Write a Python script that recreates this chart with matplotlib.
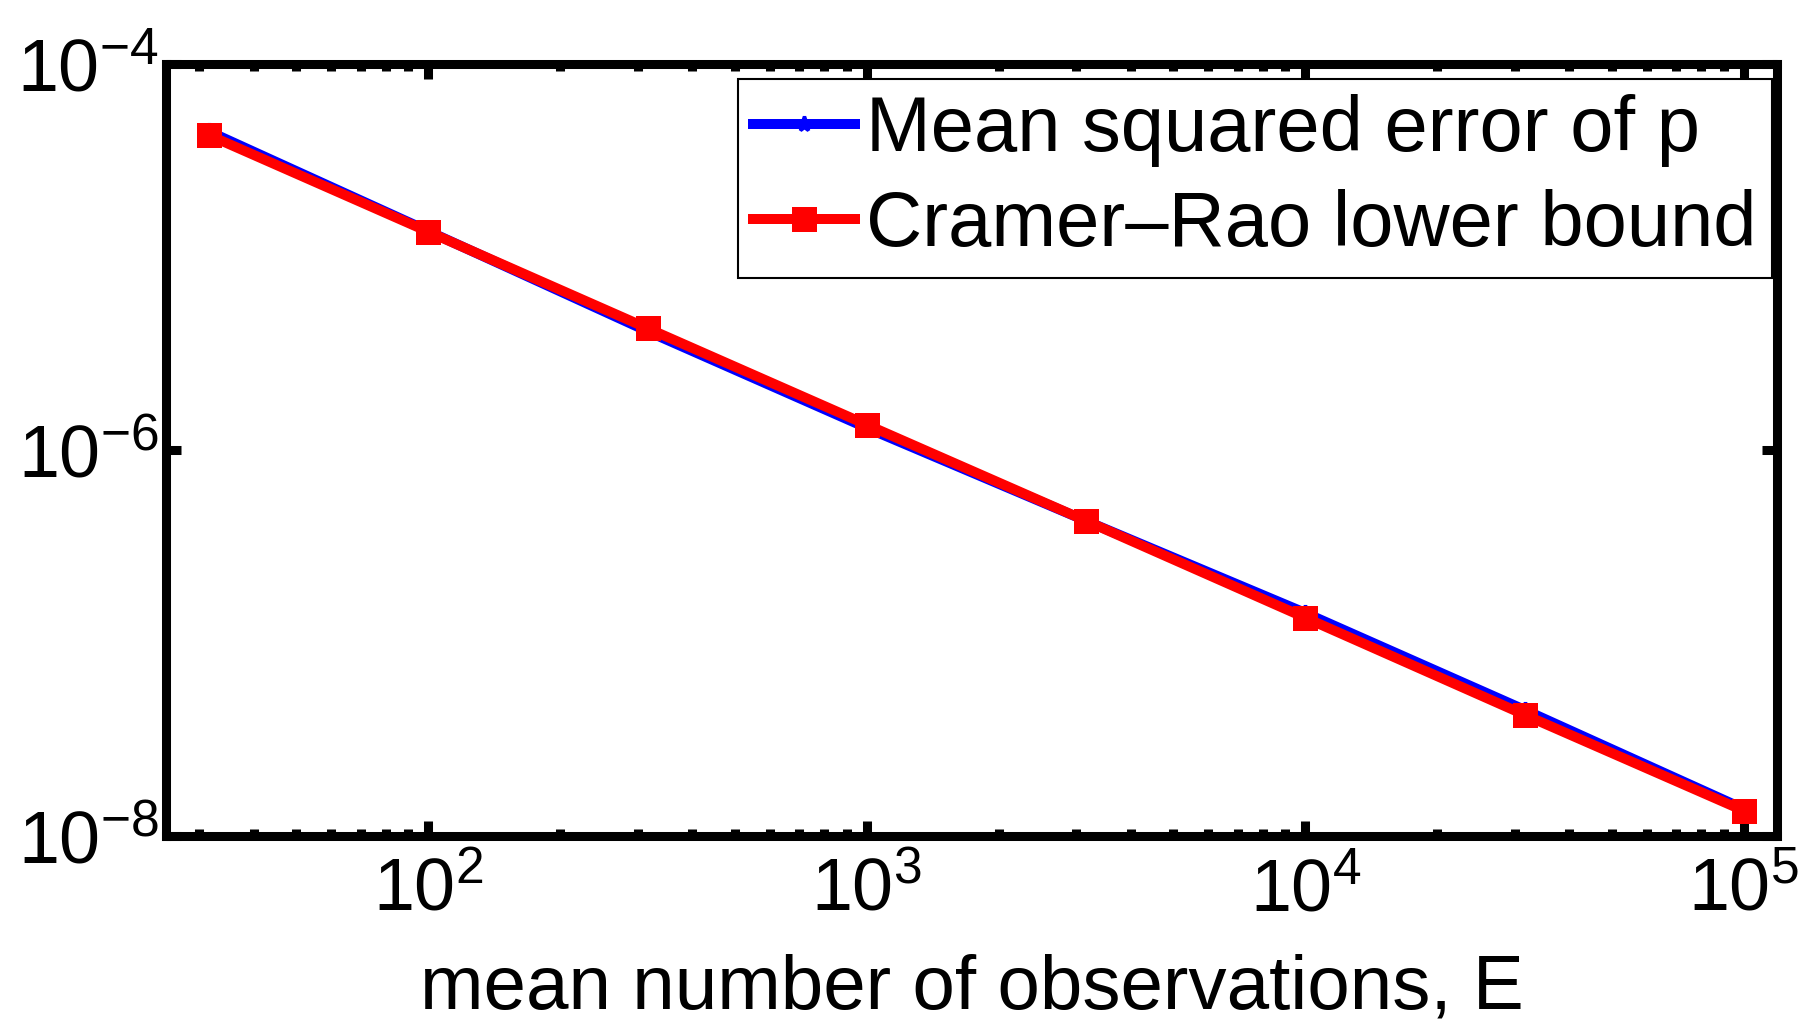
import numpy as np
import matplotlib
matplotlib.use('Agg')
import matplotlib.pyplot as plt
from matplotlib.ticker import LogLocator, FixedLocator, NullLocator, FuncFormatter

# 字体设置
plt.rcParams['font.family'] = ['Liberation Sans', 'DejaVu Sans']
plt.rcParams['mathtext.fontset'] = 'custom'
plt.rcParams['mathtext.rm'] = 'Liberation Sans'
plt.rcParams['mathtext.it'] = 'Liberation Sans:italic'

# 数据
E_vals = [31.6, 100, 316, 1000, 3162, 10000, 31623, 100000]
mse_p = [4.47e-5, 1.36e-5, 4.12e-6, 1.30e-6, 4.29e-7, 1.43e-7, 4.50e-8, 1.38e-8]
crlb = [4.27e-5, 1.35e-5, 4.27e-6, 1.35e-6, 4.29e-7, 1.35e-7, 4.24e-8, 1.35e-8]

x_ticks = [1e2, 1e3, 1e4, 1e5]
y_ticks = [1e-8, 1e-6, 1e-4]

fig = plt.figure(figsize=(18.18, 10.25), dpi=100)
ax = fig.add_axes([0.0913, 0.1844, 0.9775 - 0.0913, 0.9376 - 0.1844])

ax.plot(E_vals, mse_p, color='blue', lw=7.2, marker='*', ms=11, mew=2.5,
        label='Mean squared error of p', zorder=3)
ax.plot(E_vals, crlb, color='red', lw=7.2, marker='s', ms=18, mew=0,
        label='Cramer\u2013Rao lower bound', zorder=4)

ax.set_xscale('log')
ax.set_yscale('log')
ax.set_xlim(25.2, 1.19e5)
ax.set_ylim(1e-8, 1e-4)

fmt = FuncFormatter(lambda v, pos: r'$\mathregular{10^{%d}}$' % int(round(np.log10(v))))
ax.xaxis.set_major_locator(FixedLocator(x_ticks))
ax.xaxis.set_minor_locator(LogLocator(base=10, subs=np.arange(2, 10)))
ax.xaxis.set_major_formatter(fmt)
ax.xaxis.set_minor_formatter(plt.NullFormatter())
ax.yaxis.set_major_locator(FixedLocator(y_ticks))
ax.yaxis.set_minor_locator(NullLocator())
ax.yaxis.set_major_formatter(fmt)

ax.tick_params(which='both', direction='in', top=True, right=True, width=6.5)
ax.tick_params(which='major', length=11, labelsize=53)
ax.tick_params(which='minor', length=5)
ax.tick_params(axis='x', which='major', pad=15)
ax.tick_params(axis='y', which='major', pad=5)
for s in ax.spines.values():
    s.set_linewidth(6.5)

ax.set_xlabel('mean number of observations, E', fontsize=55, labelpad=20)

leg = ax.legend(loc='upper right', bbox_to_anchor=(0.997, 0.981), borderaxespad=0,
                fontsize=56, fancybox=False, framealpha=1, edgecolor='black',
                handlelength=1.3, handletextpad=0.15, borderpad=0.2, labelspacing=0.28)
leg.get_frame().set_linewidth(1.5)

fig.savefig('out.png', dpi=100)
